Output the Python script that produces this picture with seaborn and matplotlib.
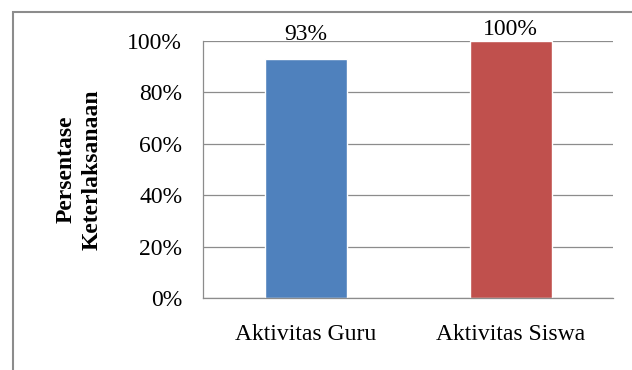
import matplotlib
matplotlib.use("Agg")
import matplotlib.pyplot as plt
import seaborn as sns
import pandas as pd
from matplotlib.patches import Rectangle
from matplotlib.ticker import FuncFormatter

categories = ["Aktivitas Guru", "Aktivitas Siswa"]
values = [93, 100]
colors = ["#4F81BD", "#C0504D"]
# vertical offset (points) of each value label above its bar
label_offsets_pt = [10, 1]

sns.set_theme(style="white")
plt.rcParams["font.family"] = ["Liberation Serif", "DejaVu Serif"]

df = pd.DataFrame({"kategori": categories, "nilai": values})

fig = plt.figure(figsize=(6.32, 3.70), dpi=100)
ax = fig.add_axes([203 / 632, 1 - 298 / 370, 410 / 632, 257 / 370])

sns.barplot(data=df, x="kategori", y="nilai", hue="kategori", palette=colors,
            width=0.4, legend=False, ax=ax, saturation=1)

ax.set_ylim(0, 100)
ax.set_yticks(range(0, 101, 20))
ax.yaxis.set_major_formatter(FuncFormatter(lambda v, _: f"{int(v)}%"))
ax.yaxis.grid(True, color="#8c8c8c", linewidth=0.9)
ax.set_axisbelow(True)

for s in ["top", "right"]:
    ax.spines[s].set_visible(False)
for s in ["left", "bottom"]:
    ax.spines[s].set_color("#8c8c8c")
    ax.spines[s].set_linewidth(0.9)

ax.set_xlim(-0.5, 1.5)
ax.set_xticks([-0.5, 0.5, 1.5], minor=True)
ax.tick_params(axis="x", which="major", length=0, pad=19, labelsize=17,
               labelcolor="black")
ax.tick_params(axis="x", which="minor", length=6, color="#8c8c8c", width=0.9)
ax.tick_params(axis="y", which="major", length=5, color="#8c8c8c", width=0.9,
               labelsize=17, pad=10, labelcolor="black")
ax.set_xlabel("")
ax.set_ylabel("Persentase\nKeterlaksanaan", fontsize=17, fontweight="bold",
              color="black", linespacing=1.3)
ax.yaxis.set_label_coords(-0.245, 0.5)

for i, (v, off) in enumerate(zip(values, label_offsets_pt)):
    ax.annotate(f"{v}%", xy=(i, v), xytext=(0, off), textcoords="offset points",
                ha="center", va="bottom", fontsize=17, color="black",
                annotation_clip=False)

fig.patches.append(Rectangle((13 / 632, -0.1), 1.2, 1 - 12 / 370 + 0.1,
                             transform=fig.transFigure, fill=False,
                             edgecolor="#8c8c8c", linewidth=1.5))

fig.savefig("out.png", dpi=100)
